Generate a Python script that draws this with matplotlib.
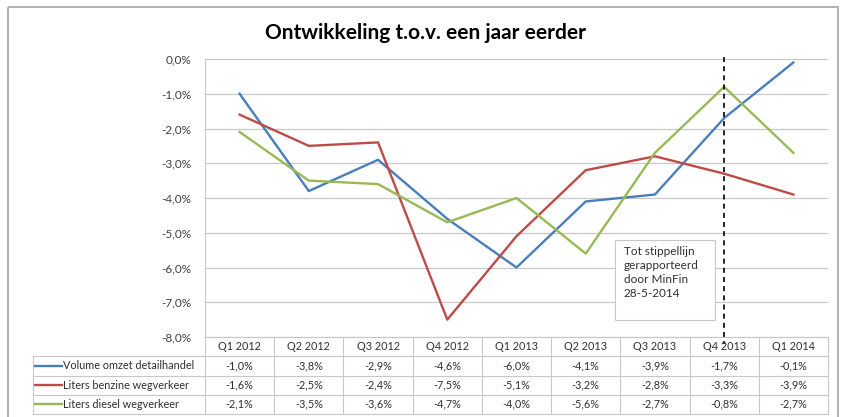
import matplotlib
matplotlib.use('Agg')
import matplotlib.pyplot as plt
from matplotlib.patches import Rectangle

plt.rcParams['font.family'] = ['Lato', 'DejaVu Sans']

# data
kwartalen = ['Q1 2012', 'Q2 2012', 'Q3 2012', 'Q4 2012', 'Q1 2013',
             'Q2 2013', 'Q3 2013', 'Q4 2013', 'Q1 2014']
volume = [-1.0, -3.8, -2.9, -4.6, -6.0, -4.1, -3.9, -1.7, -0.1]
benzine = [-1.6, -2.5, -2.4, -7.5, -5.1, -3.2, -2.8, -3.3, -3.9]
diesel = [-2.1, -3.5, -3.6, -4.7, -4.0, -5.6, -2.7, -0.8, -2.7]
namen = ['Volume omzet detailhandel', 'Liters benzine wegverkeer', 'Liters diesel wegverkeer']
kleuren = ['#4A7EBB', '#BE4B48', '#98B954']
yticks = [0, -1, -2, -3, -4, -5, -6, -7, -8]

W, H = 843, 417
fig = plt.figure(figsize=(W / 100, H / 100), dpi=100)

def px(x0, y0, x1, y1):
    return [x0 / W, 1 - y1 / H, (x1 - x0) / W, (y1 - y0) / H]

# outer frame
bg = fig.add_axes([0, 0, 1, 1])
bg.set_xlim(0, W); bg.set_ylim(H, 0); bg.axis('off')
bg.add_patch(Rectangle((8, 7), 830, 420, fill=False, ec='#A6A6A6', lw=1.2))

fig.text(425 / W, 1 - 33 / H, 'Ontwikkeling t.o.v. een jaar eerder',
         ha='center', va='center', fontsize=15, fontweight='bold')

ax = fig.add_axes(px(205, 59, 828, 337))
series = [volume, benzine, diesel]
x = range(len(kwartalen))
for vals, c in zip(series, kleuren):
    ax.plot(x, vals, color=c, lw=1.7, zorder=3)

ax.set_xlim(-0.5, len(kwartalen) - 0.5)
ax.set_ylim(-8, 0)
ax.set_yticks(yticks)
ax.set_yticklabels([f'{v:.1f}%'.replace('.', ',') for v in yticks], fontsize=8.5, color='#404040')
ax.set_xticks([])
ax.tick_params(axis='y', length=0, pad=10)
for y in yticks:
    ax.axhline(y, color='#C8C8C8', lw=0.9, zorder=1)
for s in ['top', 'right', 'bottom']:
    ax.spines[s].set_visible(False)
ax.spines['left'].set_color('#C8C8C8')

# stippellijn
ax.plot([7, 7], [0.05, -8.2], color='black', ls=(0, (3, 2.5)), lw=1.2, clip_on=False, zorder=4)

ax.add_patch(Rectangle((5.42, -7.51), 1.45, 2.3, fc='white', ec='#C8C8C8', lw=0.8, zorder=5))
ax.text(5.55, -5.38, 'Tot stippellijn\ngerapporteerd\ndoor MinFin\n28-5-2014',
        ha='left', va='top', fontsize=8.5, color='#303030', linespacing=1.35, zorder=6)

# data tabel
tab = fig.add_axes(px(205, 337, 828, 414))
tab.set_xlim(-0.5, len(kwartalen) - 0.5)
tab.set_ylim(4, 0)
tab.axis('off')
links = -0.5 - (205 - 33) / (623 / 9)
gc = '#C8C8C8'
for r in range(5):
    x0 = -0.5 if r == 0 else links
    tab.plot([x0, len(kwartalen) - 0.5], [r, r], color=gc, lw=0.8, clip_on=False)
for i in range(len(kwartalen) + 1):
    tab.plot([i - 0.5, i - 0.5], [0, 4], color=gc, lw=0.8, clip_on=False)
tab.plot([links, links], [1, 4], color=gc, lw=0.8, clip_on=False)

for i, k in enumerate(kwartalen):
    tab.text(i, 0.5, k, ha='center', va='center', fontsize=7.8, color='#303030')
for r, (vals, naam, c) in enumerate(zip(series, namen, kleuren)):
    yy = r + 1.5
    tab.plot([links + 0.03, links + 0.42], [yy, yy], color=c, lw=1.7, clip_on=False)
    tab.text(links + 0.44, yy, naam, ha='left', va='center', fontsize=7.8, color='#303030')
    for i, v in enumerate(vals):
        tab.text(i, yy, f'{v:.1f}%'.replace('.', ','), ha='center', va='center',
                 fontsize=7.8, color='#303030')

fig.savefig('out.png', dpi=100)
